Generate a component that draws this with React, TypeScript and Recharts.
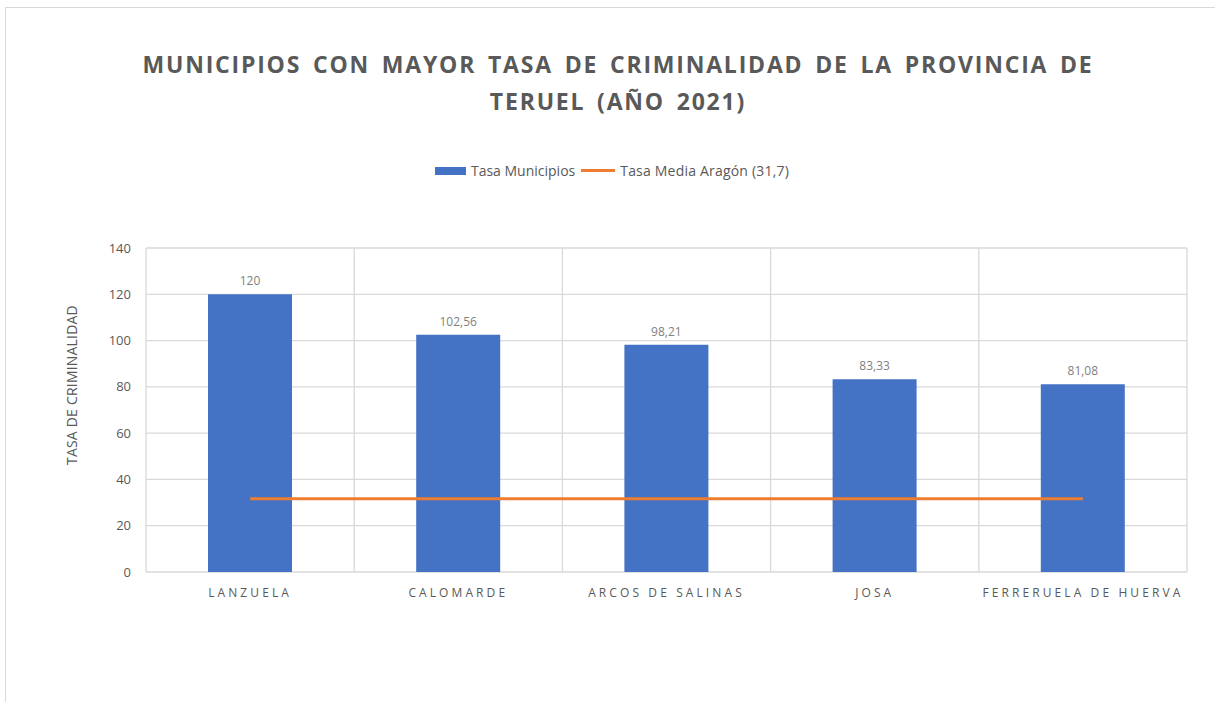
import { Bar, CartesianGrid, ComposedChart, LabelList, Line, XAxis, YAxis } from 'recharts';

const MUNICIPIOS = ['LANZUELA', 'CALOMARDE', 'ARCOS DE SALINAS', 'JOSA', 'FERRERUELA DE HUERVA'];
const TASA_MUNICIPIOS = [120, 102.56, 98.21, 83.33, 81.08];
const TASA_MEDIA_ARAGON = [31.7, 31.7, 31.7, 31.7, 31.7];
const Y_TICKS = [0, 20, 40, 60, 80, 100, 120, 140];

const data = MUNICIPIOS.map((name, i) => ({ name, tasa: TASA_MUNICIPIOS[i], media: TASA_MEDIA_ARAGON[i] }));

const GRAY = '#595959';
const GRID = '#d9d9d9';
const FONT = '"Open Sans", sans-serif';

function formatComma(v: unknown) {
  return String(v).replace('.', ',');
}

export default function App() {
  return (
    <div style={{ position: 'fixed', left: 0, top: 0, width: 1215, height: 702, overflow: 'hidden', background: '#fff', fontFamily: FONT }}>
      <div style={{ position: 'absolute', left: 5, top: 7, width: 1215, height: 702, borderLeft: `1px solid ${GRID}`, borderTop: `1px solid ${GRID}` }} />
      <div
        style={{
          position: 'absolute',
          left: 0,
          width: 1236,
          top: 46,
          textAlign: 'center',
          fontWeight: 700,
          fontSize: 23,
          lineHeight: '37px',
          letterSpacing: 1.8,
          wordSpacing: 4,
          color: GRAY,
        }}
      >
        MUNICIPIOS CON MAYOR TASA DE CRIMINALIDAD DE LA PROVINCIA DE
        <br />
        TERUEL (AÑO 2021)
      </div>
      <div style={{ position: 'absolute', left: 0, width: 1224, top: 161, display: 'flex', justifyContent: 'center', alignItems: 'center', fontSize: 14, color: GRAY }}>
        <span style={{ display: 'inline-block', width: 31, height: 8, background: '#4472C4', marginRight: 5 }} />
        <span>Tasa Municipios</span>
        <span style={{ display: 'inline-block', width: 34, height: 3, background: '#ED7D31', marginLeft: 6, marginRight: 5 }} />
        <span style={{ letterSpacing: 0.2 }}>Tasa Media Aragón (31,7)</span>
      </div>
      <div
        style={{
          position: 'absolute',
          left: 71,
          top: 385,
          transform: 'translate(-50%, -50%) rotate(-90deg)',
          whiteSpace: 'nowrap',
          fontSize: 14,
          letterSpacing: 0.2,
          color: GRAY,
        }}
      >
        TASA DE CRIMINALIDAD
      </div>
      <div style={{ position: 'absolute', left: 0, top: 0 }}>
        <ComposedChart width={1215} height={702} data={data} margin={{ top: 248, right: 28, bottom: 100, left: 86 }}>
          <CartesianGrid
            stroke={GRID}
            strokeWidth={1.3}
            verticalCoordinatesGenerator={({ offset }: any) =>
              MUNICIPIOS.map((_, i) => offset.left + (i * offset.width) / MUNICIPIOS.length).concat(offset.left + offset.width)
            }
          />
          <XAxis
            dataKey="name"
            height={30}
            axisLine={false}
            tickLine={false}
            tickMargin={10}
            tick={{ fontSize: 12, fill: GRAY, letterSpacing: 3.1, fontFamily: FONT }}
            interval={0}
          />
          <YAxis
            width={60}
            domain={[0, 140]}
            ticks={Y_TICKS}
            axisLine={false}
            tickLine={false}
            tickSize={6}
            tickMargin={9}
            tick={{ fontSize: 13, fill: GRAY, fontFamily: FONT }}
          />
          <Bar dataKey="tasa" fill="#4472C4" barSize={84} isAnimationActive={false}>
            <LabelList dataKey="tasa" position="top" offset={9} formatter={formatComma} style={{ fontSize: 12, fill: '#7f7f7f', fontFamily: FONT }} />
          </Bar>
          <Line dataKey="media" stroke="#ED7D31" strokeWidth={3} dot={false} activeDot={false} isAnimationActive={false} />
        </ComposedChart>
      </div>
    </div>
  );
}
